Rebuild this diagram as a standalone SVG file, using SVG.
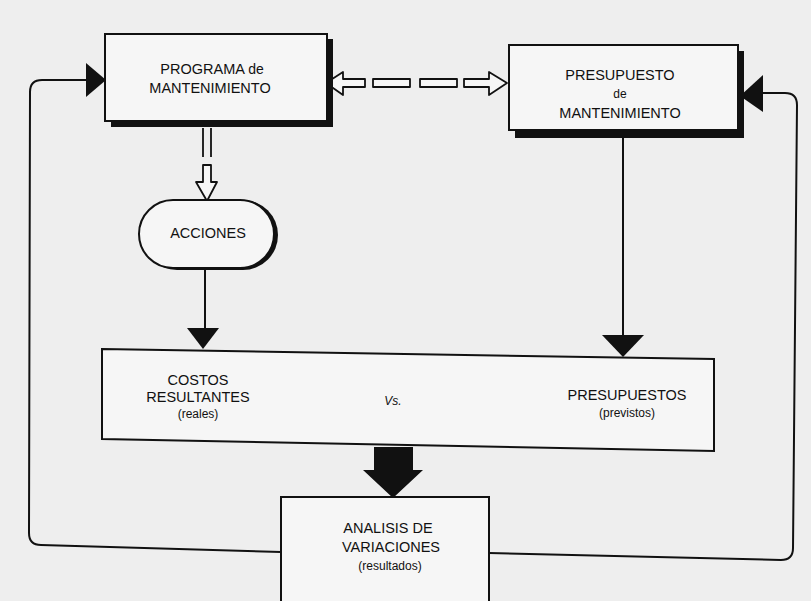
<svg xmlns="http://www.w3.org/2000/svg" width="811" height="601" viewBox="0 0 811 601">
<style>
.bx{fill:#f6f6f6;stroke:#111;stroke-width:2}
.sh{fill:#111}
.t{font-family:"Liberation Sans",Arial,sans-serif;font-size:14.5px;fill:#111;text-anchor:middle}
.s{font-size:12px}
.ln{fill:none;stroke:#111;stroke-width:2}
.ho{fill:#f6f6f6;stroke:#111;stroke-width:1.8;stroke-linejoin:round}
.ah{fill:#111}
</style>
<rect width="811" height="601" fill="#eeeeee"/>
<g id="connectors">
  <path class="ln" d="M281,552 L41,545 Q29,545 29,533 L30,92 Q30,80 42,80 L86,80"/>
  <path class="ln" d="M489,553 L781,560 Q793,560 793,548 L797,105 Q797,93 785,93 L762,93"/>
  <polygon class="ah" points="86,63 86,97 106,80"/>
  <polygon class="ah" points="763,75 763,112 740,96"/>
  <polygon class="ho" points="326,83 343,72 343,79 365,79 365,87 343,87 343,95"/>
  <rect class="ho" x="373" y="79" width="37" height="8"/>
  <rect class="ho" x="420" y="79" width="37" height="8"/>
  <polygon class="ho" points="507,83 489,72 489,79 464,79 464,87 489,87 489,95"/>
  <path class="ho" d="M203,128 L203,157 M211,128 L211,157"/>
  <polygon class="ho" points="203,165 211,165 211,182 217,182 207,201 196,182 203,182"/>
  <line class="ln" x1="205" y1="270" x2="205" y2="330"/>
  <polygon class="ah" points="187,328 219,328 203,349"/>
  <line class="ln" x1="623" y1="137" x2="623" y2="337"/>
  <polygon class="ah" points="602,335 644,335 623,357"/>
  <polygon class="ah" points="374,447 413,447 413,470 423,470 393,498 363,470 374,470"/>
</g>
<g id="programa">
  <rect class="sh" x="111" y="39" width="222" height="88"/>
  <rect class="bx" x="105" y="34" width="222" height="87"/>
  <text class="t" x="212" y="74" font-size="16">PROGRAMA <tspan font-size="14">de</tspan></text>
  <text class="t" x="210" y="93" font-size="16">MANTENIMIENTO</text>
</g>
<g id="presupuesto">
  <rect class="sh" x="515" y="51" width="229" height="87"/>
  <rect class="bx" x="509" y="45" width="229" height="85"/>
  <text class="t" x="620" y="80">PRESUPUESTO</text>
  <text class="t s" x="620" y="98">de</text>
  <text class="t" x="620" y="118">MANTENIMIENTO</text>
</g>
<g id="acciones">
  <rect class="sh" x="142" y="200" width="136" height="70" rx="35"/>
  <rect class="bx" x="139" y="200" width="135" height="68" rx="34"/>
  <text class="t" x="208" y="238">ACCIONES</text>
</g>
<g id="comparacion">
  <polygon class="bx" points="102,349 714,359 714,451 102,439"/>
  <text class="t" x="198" y="385" font-size="15">COSTOS</text>
  <text class="t" x="198" y="402" font-size="15">RESULTANTES</text>
  <text class="t s" x="198" y="418">(reales)</text>
  <text class="t s" x="393" y="405" font-style="italic">Vs.</text>
  <text class="t" x="627" y="400">PRESUPUESTOS</text>
  <text class="t s" x="627" y="417">(previstos)</text>
</g>
<g id="analisis">
  <rect class="bx" x="281" y="497" width="208" height="110"/>
  <text class="t" x="388" y="533">ANALISIS DE</text>
  <text class="t" x="391" y="552">VARIACIONES</text>
  <text class="t s" x="390" y="570">(resultados)</text>
</g>
</svg>
